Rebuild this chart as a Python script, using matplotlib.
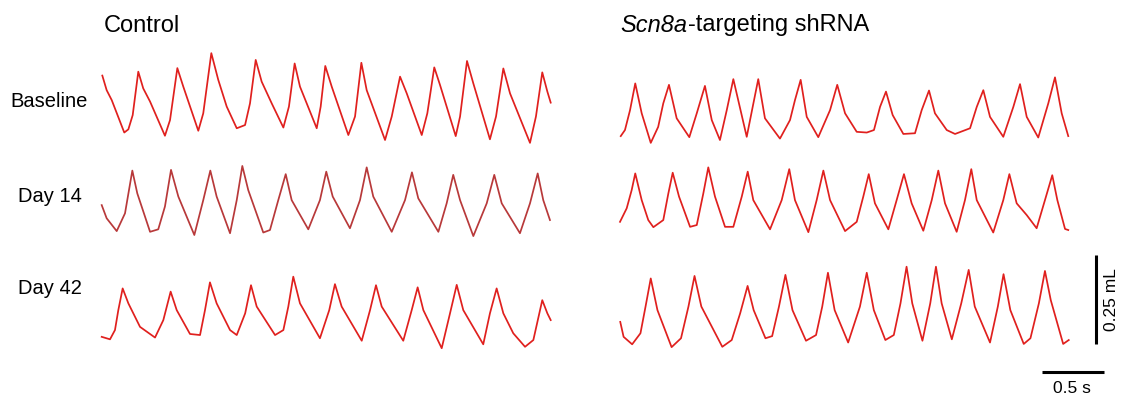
import numpy as np
import matplotlib
matplotlib.use('agg')
import matplotlib.pyplot as plt

plt.rcParams['font.family'] = ['Liberation Sans', 'DejaVu Sans']

# breathing traces as (time [s] from trace start, volume [mL] above trough line)
ctl_base = [(0.005, 0.195), (0.040, 0.154), (0.081, 0.126), (0.182, 0.035), (0.215, 0.044),
            (0.250, 0.084), (0.295, 0.206), (0.335, 0.159), (0.390, 0.122), (0.510, 0.026),
            (0.551, 0.070), (0.610, 0.216), (0.658, 0.164), (0.779, 0.040), (0.819, 0.089),
            (0.884, 0.258), (0.940, 0.183), (1.008, 0.108), (1.089, 0.047), (1.156, 0.056),
            (1.196, 0.117), (1.242, 0.239), (1.290, 0.178), (1.371, 0.117), (1.465, 0.049),
            (1.510, 0.108), (1.556, 0.229), (1.599, 0.164), (1.734, 0.047), (1.766, 0.108),
            (1.803, 0.222), (1.855, 0.164), (1.989, 0.028), (2.043, 0.080), (2.094, 0.231),
            (2.137, 0.154), (2.285, 0.014), (2.339, 0.080), (2.406, 0.192), (2.460, 0.145),
            (2.581, 0.028), (2.626, 0.089), (2.682, 0.218), (2.728, 0.169), (2.855, 0.025),
            (2.890, 0.080), (2.946, 0.236), (2.997, 0.173), (3.131, 0.016), (3.180, 0.080),
            (3.239, 0.215), (3.293, 0.145), (3.454, 0.006), (3.502, 0.080), (3.553, 0.204),
            (3.594, 0.150), (3.621, 0.119)]

shr_base = [(0.006, 0.025), (0.040, 0.042), (0.081, 0.098), (0.123, 0.173), (0.175, 0.089),
            (0.248, 0.006), (0.308, 0.051), (0.349, 0.117), (0.395, 0.169), (0.457, 0.075),
            (0.559, 0.022), (0.619, 0.089), (0.685, 0.166), (0.740, 0.070), (0.806, 0.014),
            (0.861, 0.098), (0.914, 0.185), (1.022, 0.023), (1.070, 0.107), (1.115, 0.185),
            (1.169, 0.075), (1.290, 0.018), (1.371, 0.070), (1.411, 0.126), (1.457, 0.183),
            (1.506, 0.079), (1.599, 0.022), (1.694, 0.098), (1.752, 0.169), (1.815, 0.089),
            (1.909, 0.037), (1.990, 0.035), (2.048, 0.042), (2.097, 0.107), (2.145, 0.150),
            (2.199, 0.084), (2.285, 0.031), (2.379, 0.033), (2.433, 0.098), (2.492, 0.153),
            (2.540, 0.089), (2.635, 0.042), (2.702, 0.031), (2.823, 0.047), (2.877, 0.107),
            (2.930, 0.154), (2.984, 0.079), (3.091, 0.023), (3.172, 0.107), (3.226, 0.171),
            (3.280, 0.079), (3.373, 0.021), (3.454, 0.117), (3.508, 0.190), (3.562, 0.089),
            (3.615, 0.025)]

ctl_d14 = [(0.000, 0.098), (0.040, 0.061), (0.121, 0.025), (0.188, 0.075), (0.247, 0.195),
           (0.287, 0.131), (0.390, 0.023), (0.456, 0.030), (0.510, 0.094), (0.559, 0.197),
           (0.618, 0.122), (0.747, 0.014), (0.819, 0.112), (0.876, 0.195), (0.927, 0.122),
           (1.035, 0.019), (1.089, 0.112), (1.134, 0.208), (1.182, 0.140), (1.303, 0.021),
           (1.357, 0.028), (1.424, 0.112), (1.484, 0.185), (1.532, 0.112), (1.666, 0.030),
           (1.760, 0.112), (1.811, 0.192), (1.863, 0.122), (2.002, 0.033), (2.083, 0.112),
           (2.137, 0.204), (2.190, 0.122), (2.339, 0.023), (2.446, 0.112), (2.502, 0.190),
           (2.553, 0.117), (2.715, 0.023), (2.782, 0.103), (2.835, 0.183), (2.890, 0.112),
           (2.997, 0.011), (3.105, 0.103), (3.166, 0.183), (3.226, 0.103), (3.373, 0.019),
           (3.454, 0.103), (3.516, 0.187), (3.561, 0.112), (3.615, 0.056)]

shr_d14 = [(0.000, 0.051), (0.054, 0.089), (0.094, 0.140), (0.123, 0.187), (0.175, 0.112),
           (0.228, 0.056), (0.269, 0.036), (0.349, 0.056), (0.390, 0.131), (0.425, 0.189),
           (0.476, 0.122), (0.565, 0.037), (0.619, 0.042), (0.672, 0.131), (0.712, 0.204),
           (0.766, 0.122), (0.847, 0.037), (0.914, 0.037), (0.982, 0.122), (1.030, 0.192),
           (1.075, 0.112), (1.210, 0.030), (1.304, 0.112), (1.365, 0.199), (1.411, 0.112),
           (1.519, 0.022), (1.586, 0.112), (1.640, 0.195), (1.694, 0.112), (1.815, 0.025),
           (1.909, 0.051), (1.962, 0.122), (2.006, 0.185), (2.056, 0.103), (2.164, 0.030),
           (2.231, 0.112), (2.290, 0.185), (2.352, 0.103), (2.446, 0.026), (2.514, 0.112),
           (2.567, 0.195), (2.621, 0.103), (2.715, 0.023), (2.782, 0.112), (2.833, 0.199),
           (2.877, 0.112), (3.010, 0.021), (3.091, 0.112), (3.140, 0.185), (3.199, 0.103),
           (3.280, 0.070), (3.360, 0.033), (3.427, 0.112), (3.486, 0.182), (3.527, 0.112),
           (3.589, 0.031), (3.615, 0.028)]

ctl_d42 = [(0.000, 0.037), (0.067, 0.030), (0.107, 0.056), (0.134, 0.112), (0.169, 0.173),
           (0.215, 0.131), (0.309, 0.065), (0.430, 0.035), (0.497, 0.084), (0.556, 0.164),
           (0.605, 0.112), (0.712, 0.045), (0.793, 0.042), (0.833, 0.112), (0.873, 0.190),
           (0.927, 0.131), (1.035, 0.056), (1.089, 0.042), (1.157, 0.103), (1.204, 0.182),
           (1.250, 0.122), (1.398, 0.042), (1.465, 0.056), (1.505, 0.122), (1.545, 0.206),
           (1.599, 0.131), (1.760, 0.033), (1.835, 0.112), (1.881, 0.185), (1.935, 0.122),
           (2.097, 0.026), (2.164, 0.112), (2.212, 0.182), (2.258, 0.122), (2.432, 0.026),
           (2.500, 0.112), (2.548, 0.176), (2.594, 0.112), (2.742, 0.005), (2.809, 0.103),
           (2.863, 0.183), (2.916, 0.112), (3.077, 0.016), (3.131, 0.103), (3.185, 0.173),
           (3.239, 0.103), (3.319, 0.047), (3.414, 0.009), (3.481, 0.028), (3.553, 0.140),
           (3.594, 0.103), (3.621, 0.084)]

shr_d42 = [(0.002, 0.079), (0.029, 0.037), (0.098, 0.016), (0.165, 0.047), (0.206, 0.122),
           (0.248, 0.201), (0.302, 0.112), (0.416, 0.008), (0.492, 0.033), (0.552, 0.122),
           (0.601, 0.208), (0.656, 0.122), (0.825, 0.009), (0.901, 0.028), (0.969, 0.103),
           (1.029, 0.180), (1.078, 0.112), (1.173, 0.033), (1.227, 0.039), (1.282, 0.122),
           (1.334, 0.211), (1.391, 0.112), (1.500, 0.026), (1.581, 0.042), (1.631, 0.122),
           (1.677, 0.217), (1.731, 0.112), (1.840, 0.021), (1.935, 0.122), (1.990, 0.217),
           (2.047, 0.112), (2.140, 0.028), (2.208, 0.042), (2.262, 0.131), (2.311, 0.234),
           (2.357, 0.131), (2.439, 0.026), (2.502, 0.131), (2.548, 0.234), (2.594, 0.131),
           (2.676, 0.030), (2.752, 0.131), (2.812, 0.225), (2.861, 0.122), (2.984, 0.021),
           (3.047, 0.122), (3.093, 0.213), (3.148, 0.112), (3.256, 0.017), (3.310, 0.033),
           (3.378, 0.131), (3.427, 0.222), (3.474, 0.140), (3.574, 0.017), (3.619, 0.028)]

groups = ['Control', 'Scn8a-targeting shRNA']
timepoints = ['Baseline', 'Day 14', 'Day 42']
traces = {
    ('Control', 'Baseline'): ctl_base,
    ('Control', 'Day 14'): ctl_d14,
    ('Control', 'Day 42'): ctl_d42,
    ('Scn8a-targeting shRNA', 'Baseline'): shr_base,
    ('Scn8a-targeting shRNA', 'Day 14'): shr_d14,
    ('Scn8a-targeting shRNA', 'Day 42'): shr_d42,
}
bar_time = 0.5    # s
bar_vol = 0.25    # mL

# figure geometry (pixels) and scaling of the traces
W, H = 1131, 400
PX_PER_S = 124.0
PX_PER_ML = 356.0
col_x = {'Control': 101.7, 'Scn8a-targeting shRNA': 620.0}
row_y = {'Baseline': 145.0, 'Day 14': 240.0, 'Day 42': 350.0}

fig = plt.figure(figsize=(W / 100, H / 100), dpi=100)
ax = fig.add_axes([0, 0, 1, 1])
ax.set_xlim(0, W / PX_PER_S)
ax.set_ylim(-H / PX_PER_ML, 0)
ax.axis('off')

for (grp, tp), pts in traces.items():
    t, v = np.array(pts).T
    x0 = col_x[grp] / PX_PER_S
    y0 = -row_y[tp] / PX_PER_ML
    color = '#b8393a' if (grp, tp) == ('Control', 'Day 14') else '#e0201e'
    ax.plot(t + x0, v + y0, color=color, lw=1.25, solid_joinstyle='round')

# scale bars
vx = 1096 / PX_PER_S
vy0 = -344 / PX_PER_ML
ax.plot([vx, vx], [vy0, vy0 + bar_vol], color='k', lw=2.2, solid_capstyle='butt')
hx1 = 1104 / PX_PER_S
hy = -372 / PX_PER_ML
ax.plot([hx1 - bar_time, hx1], [hy, hy], color='k', lw=2.2, solid_capstyle='butt')

fig.text(1072 / W, 1 - 393 / H, '0.5 s', fontsize=12.5, ha='center', va='baseline')
fig.text(1112 / W, 1 - 300 / H, '0.25 mL', fontsize=12.5, ha='center', va='center',
         rotation=90)

# column titles and row labels
fig.text(104 / W, 1 - 31.5 / H, 'Control', fontsize=17, ha='left', va='baseline')
gene = fig.text(620.5 / W, 1 - 31.5 / H, 'Scn8a', fontsize=17, style='italic',
                ha='left', va='baseline')
renderer = fig.canvas.get_renderer()
gene_end = gene.get_window_extent(renderer=renderer).x1
fig.text(gene_end / W, 1 - 31.5 / H, '-targeting shRNA', fontsize=17,
         ha='left', va='baseline')
fig.text(10 / W, 1 - 107 / H, 'Baseline', fontsize=14.5, ha='left', va='baseline')
fig.text(18.5 / W, 1 - 201.5 / H, 'Day 14', fontsize=14.5, ha='left', va='baseline')
fig.text(18.5 / W, 1 - 293.5 / H, 'Day 42', fontsize=14.5, ha='left', va='baseline')

fig.savefig('out.png', dpi=100)
